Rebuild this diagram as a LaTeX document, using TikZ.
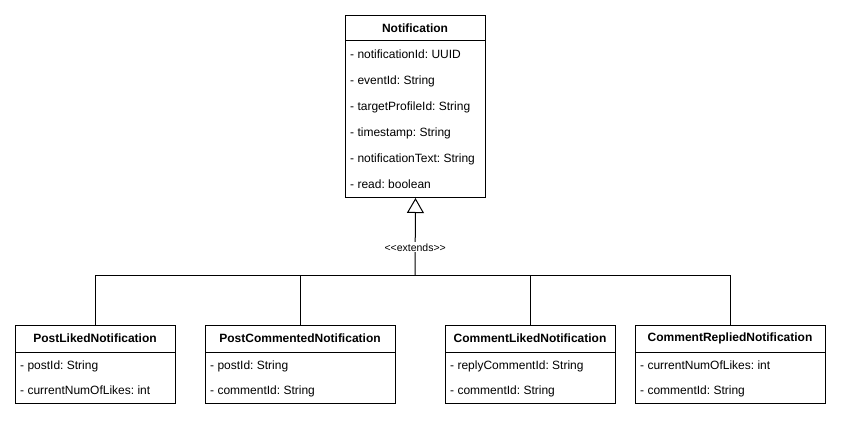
\documentclass[tikz,border=0pt]{standalone}
\usepackage{fontspec}
\setmainfont{Liberation Sans}
\usetikzlibrary{arrows.meta}
\frenchspacing
\begin{document}
\begin{tikzpicture}[x=1pt,y=-1pt,
  box/.style={draw=black,line width=1pt,fill=white,rectangle,anchor=north west,inner sep=0pt},
  hdr/.style={font=\fontsize{12}{14}\selectfont\bfseries,inner sep=0pt},
  attr/.style={font=\fontsize{12}{14}\selectfont,anchor=base west,inner sep=0pt},
  divline/.style={line width=1pt},
  conn/.style={line width=1pt},
  ext/.style={line width=1pt,-{Triangle[open,length=15pt,width=17pt,line width=1pt]}},
  lbl/.style={font=\fontsize{10.5}{12}\selectfont,fill=white,inner sep=1pt}
]
\useasboundingbox (0,0) rectangle (842,422);
\fill[white] (0,0) rectangle (842,422);

% Notification
\node[box,minimum width=140pt,minimum height=182pt] (notif) at (345,15) {};
\node[hdr] (notifT) at (415,28) {Notification};
\draw[divline] (345,41) -- (485,41);
\node[attr] (n1) at (350,58.5) {- notificationId: UUID};
\node[attr] (n2) at (350,84.5) {- eventId: String};
\node[attr] (n3) at (350,110.5) {- targetProfileId: String};
\node[attr] (n4) at (350,136.5) {- timestamp: String};
\node[attr] (n5) at (350,162.5) {- notificationText: String};
\node[attr] (n6) at (350,188.5) {- read: boolean};

% Children
\node[box,minimum width=160pt,minimum height=78pt] (p1) at (15,325) {};
\node[hdr] (p1T) at (95,338.5) {PostLikedNotification};
\draw[divline] (15,352) -- (175,352);
\node[attr] (p1a) at (20,369.5) {- postId: String};
\node[attr] (p1b) at (20,394.5) {- currentNumOfLikes: int};

\node[box,minimum width=190pt,minimum height=78pt] (p2) at (205,325) {};
\node[hdr] (p2T) at (300,338.5) {PostCommentedNotification};
\draw[divline] (205,352) -- (395,352);
\node[attr] (p2a) at (210,369.5) {- postId: String};
\node[attr] (p2b) at (210,394.5) {- commentId: String};

\node[box,minimum width=170pt,minimum height=78pt] (p3) at (445,325) {};
\node[hdr] (p3T) at (530,338.5) {CommentLikedNotification};
\draw[divline] (445,352) -- (615,352);
\node[attr] (p3a) at (450,369.5) {- replyCommentId: String};
\node[attr] (p3b) at (450,394.5) {- commentId: String};

\node[box,minimum width=190pt,minimum height=78pt] (p4) at (635,325) {};
\node[hdr] (p4T) at (730,338.5) {CommentRepliedNotification};
\draw[divline] (635,352) -- (825,352);
\node[attr] (p4a) at (640,369.5) {- currentNumOfLikes: int};
\node[attr] (p4b) at (640,394.5) {- commentId: String};

% Connectors
\coordinate (j) at (415,275);
\draw[conn] (p1.north) |- (j);
\draw[conn] (p2.north) |- (j);
\draw[conn] (p3.north) |- (j);
\draw[conn] (p4.north) |- (j);
\draw[ext] (j) -- node[lbl,pos=0.36] (extl) {{<}{<}extends{>}{>}} (notif.south);
\end{tikzpicture}
\end{document}
